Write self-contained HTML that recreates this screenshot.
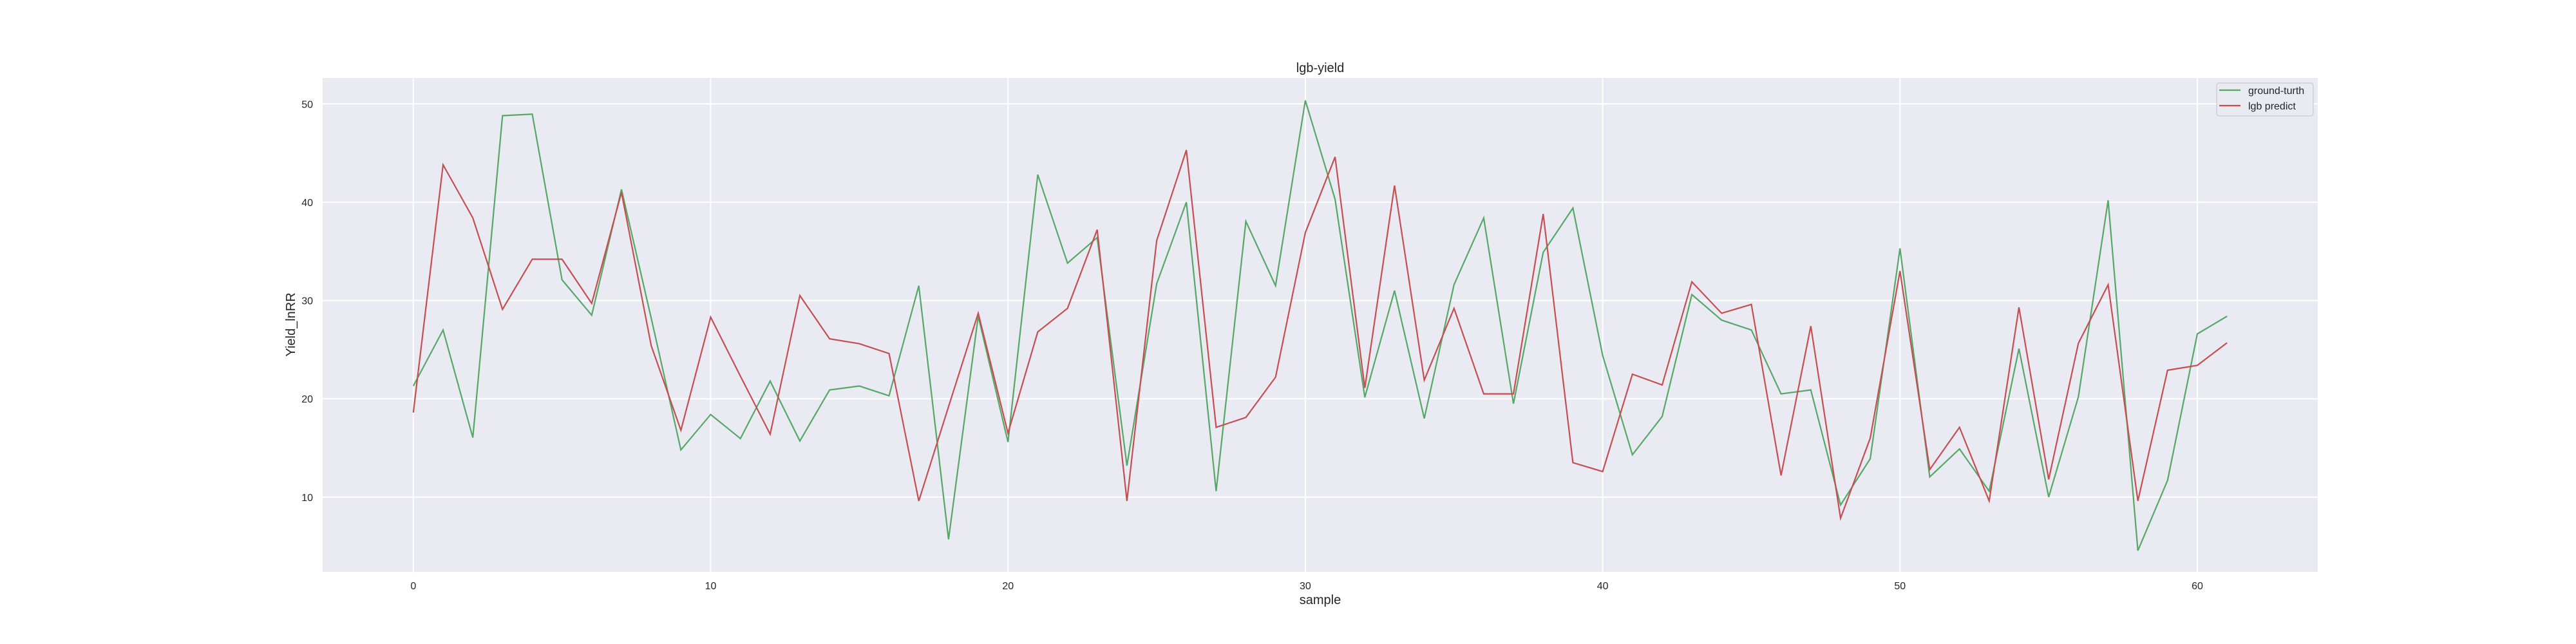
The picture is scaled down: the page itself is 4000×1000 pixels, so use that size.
<!DOCTYPE html>
<html><head><meta charset="utf-8"><style>
html,body{margin:0;padding:0;background:#fff;}
svg{display:block;font-family:"Liberation Sans","Noto Sans CJK KR",sans-serif;}
</style></head><body>
<svg id="chart" width="4000" height="1000" viewBox="0 0 4000 1000" xmlns="http://www.w3.org/2000/svg"></svg>
<script>
const sampleIdx = Array.from({length:62},(_,i)=>i);
const groundTruth = [21.3,27.0,16.05,48.8,48.95,32.1,28.5,41.3,28.2,14.8,18.4,15.95,21.8,15.7,20.9,21.3,20.3,31.5,5.7,28.4,15.6,42.8,33.8,36.4,13.2,31.7,40.0,10.6,38.05,31.5,50.35,40.3,20.15,31.0,18.0,31.6,38.4,19.5,34.9,39.4,24.4,14.3,18.2,30.6,28.0,27.0,20.5,20.9,9.2,13.9,35.3,12.05,14.9,10.6,25.1,10.0,20.2,40.2,4.55,11.7,26.6,28.4];
const lgbPredict = [18.6,43.8,38.4,29.1,34.2,34.2,29.7,41.0,25.4,16.8,28.3,22.3,16.4,30.5,26.1,25.6,24.6,9.6,19.2,28.7,16.5,26.8,29.2,37.2,9.6,36.1,45.3,17.1,18.1,22.2,36.9,44.6,21.1,41.7,21.9,29.2,20.5,20.5,38.8,13.5,12.6,22.5,21.4,31.9,28.7,29.6,12.2,27.4,7.85,16.0,33.0,12.8,17.1,9.6,29.3,11.8,25.65,31.6,9.6,22.9,23.4,25.7];
const xTicks = [0,10,20,30,40,50,60];
const yTicks = [10,20,30,40,50];

const L=501,R=3599,T=121,B=888;
const xMin=-3.05,xMax=64.05,yMin=2.39,yMax=52.64;
const xs=v=>L+(v-xMin)/(xMax-xMin)*(R-L);
const ys=v=>B-(v-yMin)/(yMax-yMin)*(B-T);
const NS="http://www.w3.org/2000/svg";
const svg=document.getElementById('chart');
function mk(tag,attrs,parent){const e=document.createElementNS(NS,tag);for(const k in attrs)e.setAttribute(k,attrs[k]);(parent||svg).appendChild(e);return e;}

const bg=mk('rect',{x:L,y:T,width:R-L,height:B-T,fill:'#eaeaf2'});



xTicks.forEach(t=>{
  const g=mk('line',{x1:xs(t),x2:xs(t),y1:T,y2:B,stroke:'#fff','stroke-width':2});
  
  
  const lb=mk('text',{x:xs(t),y:915,'text-anchor':'middle','font-size':16,fill:'#262626'});
  lb.textContent=t;
  
  
});
yTicks.forEach(t=>{
  const g=mk('line',{x1:L,x2:R,y1:ys(t),y2:ys(t),stroke:'#fff','stroke-width':2});
  
  
  const lb=mk('text',{x:486,y:ys(t)+6,'text-anchor':'end','font-size':16,fill:'#262626'});
  lb.textContent=t;
  
  
});

function series(vals,color,name){
  const d=vals.map((v,i)=>(i?'L':'M')+xs(sampleIdx[i]).toFixed(1)+','+ys(v).toFixed(1)).join(' ');
  const p=mk('path',{d:d,fill:'none',stroke:color,'stroke-width':2.2,'stroke-linejoin':'miter'});
  
  
}
series(groundTruth,'#55a868','ground-truth-line');
series(lgbPredict,'#c44e52','lgb-predict-line');

const title=mk('text',{x:2050,y:112,'text-anchor':'middle','font-size':20,fill:'#262626'});
title.textContent='lgb-yield';



const xl=mk('text',{x:2050,y:938,'text-anchor':'middle','font-size':20,fill:'#262626'});
xl.textContent='sample';



const yl=mk('text',{x:0,y:0,'text-anchor':'middle','font-size':20,fill:'#262626',transform:'translate(458,504) rotate(-90)'});
yl.textContent='Yield_lnRR';



const leg=mk('g',{});


mk('rect',{x:3442,y:129,width:150,height:51,rx:4,fill:'#eaeaf2',stroke:'#d0d0d8','stroke-width':1.5},leg);
const e1=mk('g',{},leg);


mk('line',{x1:3446,x2:3479,y1:140,y2:140,stroke:'#55a868','stroke-width':2.2},e1);
const t1=mk('text',{x:3491,y:146,'font-size':16,fill:'#262626'},e1);t1.textContent='ground-turth';
const e2=mk('g',{},leg);


mk('line',{x1:3446,x2:3479,y1:164,y2:164,stroke:'#c44e52','stroke-width':2.2},e2);
const t2=mk('text',{x:3491,y:170,'font-size':16,fill:'#262626'},e2);t2.textContent='lgb predict';
</script>
</body></html>
